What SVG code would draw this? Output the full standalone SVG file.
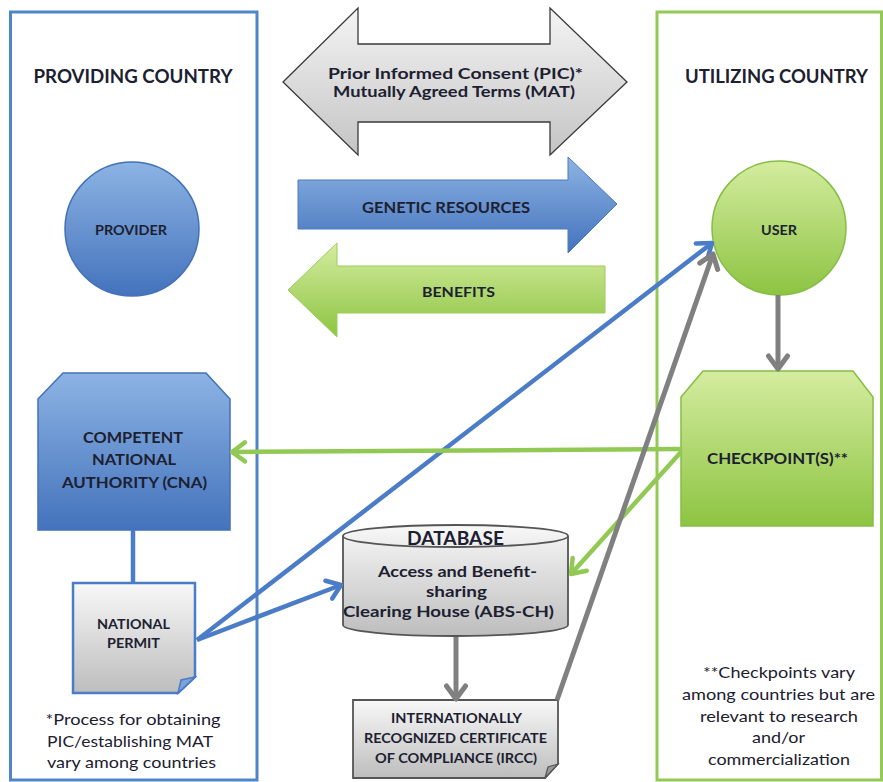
<svg xmlns="http://www.w3.org/2000/svg" width="883" height="782" viewBox="0 0 883 782">
<defs>
<style>
text{font-family:Lato,"Open Sans","Liberation Sans",sans-serif;fill:#1c2030;text-anchor:middle}
.b{font-weight:bold}
.title{font-size:19px;font-weight:bold}
.note{font-size:16px}
.panelL{fill:none;stroke:#4f85c9;stroke-width:3}
.panelR{fill:none;stroke:#94c954;stroke-width:3}
.blueNode{fill:url(#gBlue);stroke:#4272b8;stroke-width:1.5}
.greenNode{fill:url(#gGreen);stroke:#86bd45;stroke-width:1.5}
.grayNode{fill:url(#gGray);stroke:#555;stroke-width:1.8}
.cB{fill:none;stroke:#4a7cc7;stroke-width:4.5}
.cG{fill:none;stroke:#92c955;stroke-width:4.5}
.cK{fill:none;stroke:#808080;stroke-width:5}
</style>
<linearGradient id="gBlue" x1="0" y1="0" x2="0" y2="1"><stop offset="0" stop-color="#8cb3e3"/><stop offset="1" stop-color="#4473bd"/></linearGradient>
<linearGradient id="gGreen" x1="0" y1="0" x2="0" y2="1"><stop offset="0" stop-color="#d4ec9f"/><stop offset="1" stop-color="#8dc442"/></linearGradient>
<linearGradient id="gGray" x1="0" y1="0" x2="0" y2="1"><stop offset="0" stop-color="#f8f8f8"/><stop offset="1" stop-color="#bdbdbd"/></linearGradient>
<linearGradient id="gGrayArrow" x1="0" y1="0" x2="0" y2="1"><stop offset="0" stop-color="#f4f4f4"/><stop offset="1" stop-color="#c4c4c4"/></linearGradient>
<marker id="mBlue" markerUnits="userSpaceOnUse" markerWidth="26" markerHeight="26" viewBox="0 0 26 26" refX="21" refY="13" orient="auto"><path d="M8,3.5 L21,13 L8,22.5" fill="none" stroke="#4a7cc7" stroke-width="4.5" stroke-linecap="round" stroke-linejoin="round"/></marker>
<marker id="mGreen" markerUnits="userSpaceOnUse" markerWidth="26" markerHeight="26" viewBox="0 0 26 26" refX="21" refY="13" orient="auto"><path d="M8,3.5 L21,13 L8,22.5" fill="none" stroke="#92c955" stroke-width="4.5" stroke-linecap="round" stroke-linejoin="round"/></marker>
<marker id="mGray" markerUnits="userSpaceOnUse" markerWidth="26" markerHeight="26" viewBox="0 0 26 26" refX="21" refY="13" orient="auto"><path d="M8,3.5 L21,13 L8,22.5" fill="none" stroke="#808080" stroke-width="5" stroke-linecap="round" stroke-linejoin="round"/></marker>
</defs>
<rect width="883" height="782" fill="#ffffff"/>

<g id="providing-country">
<rect class="panelL" x="10.5" y="12" width="246.5" height="768"/>
<text class="title" x="133" y="83" textLength="199" lengthAdjust="spacingAndGlyphs">PROVIDING COUNTRY</text>
<text class="note" x="133" y="725" textLength="175" lengthAdjust="spacingAndGlyphs">*Process for obtaining</text>
<text class="note" x="130" y="747" textLength="166" lengthAdjust="spacingAndGlyphs">PIC/establishing MAT</text>
<text class="note" x="131.5" y="768" textLength="169" lengthAdjust="spacingAndGlyphs">vary among countries</text>
</g>

<g id="utilizing-country">
<rect class="panelR" x="657" y="12" width="224.5" height="768"/>
<text class="title" x="776.5" y="83" textLength="183" lengthAdjust="spacingAndGlyphs">UTILIZING COUNTRY</text>
<text class="note" x="779" y="678" textLength="152" lengthAdjust="spacingAndGlyphs">**Checkpoints vary</text>
<text class="note" x="778.5" y="700" textLength="193" lengthAdjust="spacingAndGlyphs">among countries but are</text>
<text class="note" x="779" y="722" textLength="158" lengthAdjust="spacingAndGlyphs">relevant to research</text>
<text class="note" x="778.5" y="743" textLength="53" lengthAdjust="spacingAndGlyphs">and/or</text>
<text class="note" x="779" y="765" textLength="142" lengthAdjust="spacingAndGlyphs">commercialization</text>
</g>

<g id="pic-mat">
<path d="M283,82 L358,8 L358,44 L550,44 L550,8 L627,82 L550,155 L550,122 L358,122 L358,155 Z" fill="url(#gGrayArrow)" stroke="#3a3a3a" stroke-width="1.3"/>
<text class="b" x="455.5" y="79" font-size="14.8" textLength="255" lengthAdjust="spacingAndGlyphs">Prior Informed Consent (PIC)*</text>
<text class="b" x="454" y="97" font-size="14.8" textLength="242" lengthAdjust="spacingAndGlyphs">Mutually Agreed Terms (MAT)</text>
</g>

<g id="genetic-resources">
<path d="M298,180 L568,180 L568,157 L617,204 L568,253 L568,229 L298,229 Z" fill="url(#gBlue)" stroke="#4a7cc0" stroke-width="1"/>
<text class="b" x="446" y="213" font-size="15" textLength="168" lengthAdjust="spacingAndGlyphs">GENETIC RESOURCES</text>
</g>

<g id="benefits">
<path d="M288,290 L337,243 L337,266 L605,266 L605,313 L337,313 L337,337 Z" fill="url(#gGreen)" stroke="#9ccd5c" stroke-width="1"/>
<text class="b" x="458.5" y="297" font-size="14" textLength="73" lengthAdjust="spacingAndGlyphs">BENEFITS</text>
</g>

<g id="provider">
<circle class="blueNode" cx="132" cy="229" r="67"/>
<text class="b" x="131" y="235" font-size="13.5" textLength="72" lengthAdjust="spacingAndGlyphs">PROVIDER</text>
</g>

<g id="user">
<circle class="greenNode" cx="779" cy="228" r="67"/>
<text class="b" x="779" y="235" font-size="13.5" textLength="36" lengthAdjust="spacingAndGlyphs">USER</text>
</g>

<g id="cna">
<path class="blueNode" d="M38,399 L63,373 L206,373 L230,399 L230,530 L38,530 Z"/>
<text class="b" x="133" y="443" font-size="15.5" textLength="100" lengthAdjust="spacingAndGlyphs">COMPETENT</text>
<text class="b" x="134" y="465" font-size="15.5" textLength="84" lengthAdjust="spacingAndGlyphs">NATIONAL</text>
<text class="b" x="134.5" y="488" font-size="15.5" textLength="145" lengthAdjust="spacingAndGlyphs">AUTHORITY (CNA)</text>
</g>

<g id="national-permit">
<path d="M73,583 L195,583 L195,677 L178,693 L73,693 Z" fill="url(#gGray)" stroke="#4a7cc7" stroke-width="2.5"/>
<path d="M195,677 L181,680 L178,693 Z" fill="#7ea3d6" stroke="#4a7cc7" stroke-width="1.5"/>
<text class="b" x="133.5" y="629" font-size="13.5" textLength="73" lengthAdjust="spacingAndGlyphs">NATIONAL</text>
<text class="b" x="133.5" y="648" font-size="13.5" textLength="53" lengthAdjust="spacingAndGlyphs">PERMIT</text>
</g>

<g id="database">
<path class="grayNode" d="M343,536 A112.5,11 0 0 1 568,536 L568,625 A112.5,11 0 0 1 343,625 Z"/>
<path d="M343,536 A112.5,11 0 0 0 568,536" fill="none" stroke="#555" stroke-width="1.8"/>
<text class="b" x="455.5" y="545" font-size="18" textLength="97" lengthAdjust="spacingAndGlyphs">DATABASE</text>
<text class="b" x="457.5" y="577" font-size="16" textLength="159" lengthAdjust="spacingAndGlyphs">Access and Benefit-</text>
<text class="b" x="456.5" y="597" font-size="16" textLength="61" lengthAdjust="spacingAndGlyphs">sharing</text>
<text class="b" x="448.5" y="617" font-size="16" textLength="211" lengthAdjust="spacingAndGlyphs">Clearing House (ABS-CH)</text>
</g>

<g id="ircc">
<path class="grayNode" d="M353,700 L558,700 L558,764 L545,778 L353,778 Z"/>
<path d="M558,764 L548,767 L545,778 Z" fill="#9a9a9a" stroke="#555" stroke-width="1.2"/>
<text class="b" x="456.5" y="723" font-size="13" textLength="131" lengthAdjust="spacingAndGlyphs">INTERNATIONALLY</text>
<text class="b" x="455.5" y="743" font-size="13" textLength="183" lengthAdjust="spacingAndGlyphs">RECOGNIZED CERTIFICATE</text>
<text class="b" x="456" y="763" font-size="13" textLength="162" lengthAdjust="spacingAndGlyphs">OF COMPLIANCE (IRCC)</text>
</g>

<g id="checkpoints">
<path class="greenNode" d="M681,397 L703,371 L853,371 L873,397 L873,526 L681,526 Z"/>
<text class="b" x="777.5" y="464" font-size="14.5" textLength="141" lengthAdjust="spacingAndGlyphs">CHECKPOINT(S)**</text>
</g>

<g id="connectors">
<line class="cB" x1="133" y1="530" x2="133" y2="583"/>
<line class="cB" x1="197" y1="640" x2="341" y2="585" marker-end="url(#mBlue)"/>
<line class="cB" x1="197" y1="640" x2="712" y2="243" marker-end="url(#mBlue)"/>
<line class="cG" x1="681" y1="449" x2="232" y2="452" marker-end="url(#mGreen)"/>
<line class="cG" x1="681" y1="452" x2="571" y2="574" marker-end="url(#mGreen)"/>
<line class="cK" x1="778" y1="295" x2="778" y2="369" marker-end="url(#mGray)"/>
<line class="cK" x1="456" y1="637" x2="456" y2="699" marker-end="url(#mGray)"/>
<line class="cK" x1="557" y1="700" x2="713" y2="254" marker-end="url(#mGray)"/>
</g>
</svg>
